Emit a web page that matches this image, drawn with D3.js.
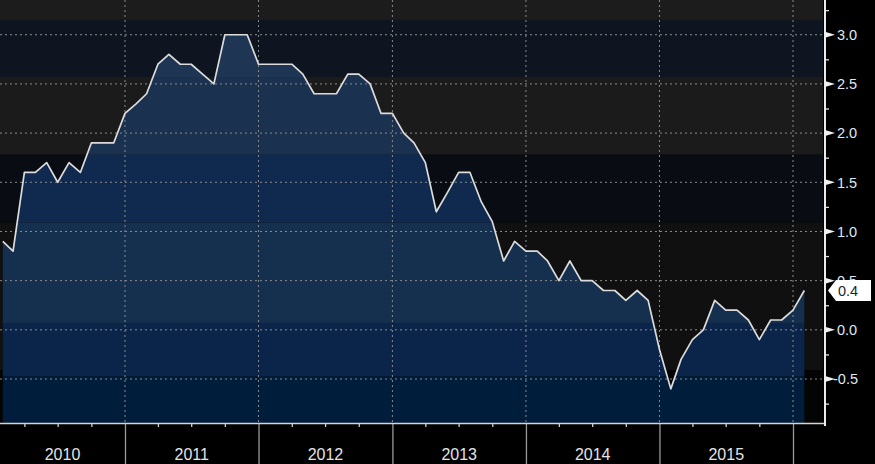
<!DOCTYPE html>
<html>
<head>
<meta charset="utf-8">
<script src="https://cdn.jsdelivr.net/npm/d3@7"></script>
<style>
  body { margin: 0; background: #000; }
  svg { display: block; font-family: "Liberation Sans", Arial, sans-serif; }
</style>
</head>
<body>
<div id="chart"></div>
<script>
// monthly values, Jan..Dec of each year
var cpi2010 = [0.9, 0.8, 1.6, 1.6, 1.7, 1.5, 1.7, 1.6, 1.9, 1.9, 1.9, 2.2];
var cpi2011 = [2.3, 2.4, 2.7, 2.8, 2.7, 2.7, 2.6, 2.5, 3.0, 3.0, 3.0, 2.7];
var cpi2012 = [2.7, 2.7, 2.7, 2.6, 2.4, 2.4, 2.4, 2.6, 2.6, 2.5, 2.2, 2.2];
var cpi2013 = [2.0, 1.9, 1.7, 1.2, 1.4, 1.6, 1.6, 1.3, 1.1, 0.7, 0.9, 0.8];
var cpi2014 = [0.8, 0.7, 0.5, 0.7, 0.5, 0.5, 0.4, 0.4, 0.3, 0.4, 0.3, -0.2];
var cpi2015 = [-0.6, -0.3, -0.1, 0.0, 0.3, 0.2, 0.2, 0.1, -0.1, 0.1, 0.1, 0.2];
var cpi2016 = [0.4];

var years = [2010, 2011, 2012, 2013, 2014, 2015, 2016];
var yearLabels = ["2010", "2011", "2012", "2013", "2014", "2015"];
var yTicks = [-0.5, 0, 0.5, 1.0, 1.5, 2.0, 2.5, 3.0];
var yMinorTicks = [-0.75, -0.25, 0.25, 0.75, 1.25, 1.75, 2.25, 2.75, 3.25];

// background shading bands (value breaks, top to bottom)
var bgBreaks = [3.15, 2.57, 1.78, 1.09, -0.41];
var bgColors = ["#1c1c1c", "#0f1520", "#1b1b1b", "#0a0c14", "#101010", "#040404"];
var fillBreaks = [2.57, 1.78, 1.09, 0.07, -0.47];
var fillColors = ["#1e3554", "#1a3150", "#0f2a4e", "#15304f", "#0a2549", "#001d3b"];

var width = 875, height = 464;
var plotW = 823, plotH = 423;

var series = [cpi2010, cpi2011, cpi2012, cpi2013, cpi2014, cpi2015, cpi2016];
var data = [];
series.forEach(function(vals, k) {
  vals.forEach(function(v, m) {
    // plotted at month end
    data.push({ date: d3.timeMonth.offset(new Date(years[k], m, 1), 1), value: v });
  });
});

var svg = d3.select("#chart").append("svg")
  .attr("width", width)
  .attr("height", height);

var x = d3.scaleTime()
  .domain([new Date(2010, 0, 24, 8), new Date(2016, 2, 23)])
  .range([0, plotW]);

var y = d3.scaleLinear()
  .domain([-0.947, 3.353])
  .range([plotH, 0]);

var g = svg.append("g");

// background bands
var bgEdges = [y.domain()[1]].concat(bgBreaks, [y.domain()[0]]);
g.selectAll(".bg").data(bgColors).enter().append("rect")
  .attr("x", 0)
  .attr("width", plotW)
  .attr("y", (d, i) => y(bgEdges[i]))
  .attr("height", (d, i) => y(bgEdges[i + 1]) - y(bgEdges[i]))
  .attr("fill", d => d);

// area clip
var area = d3.area()
  .x(d => x(d.date))
  .y0(plotH)
  .y1(d => y(d.value));

svg.append("clipPath").attr("id", "areaClip")
  .append("path").attr("d", area(data));

var fillEdges = [y.domain()[1]].concat(fillBreaks, [y.domain()[0]]);
g.append("g").attr("clip-path", "url(#areaClip)")
  .selectAll("rect").data(fillColors).enter().append("rect")
  .attr("x", 0)
  .attr("width", plotW)
  .attr("y", (d, i) => y(fillEdges[i]))
  .attr("height", (d, i) => y(fillEdges[i + 1]) - y(fillEdges[i]))
  .attr("fill", d => d);

// grid
var yearStarts = years.slice(1).map(yr => new Date(yr, 0, 1));
g.selectAll(".hgrid").data(yTicks).enter().append("line")
  .attr("x1", 0).attr("x2", plotW)
  .attr("y1", d => y(d)).attr("y2", d => y(d))
  .attr("stroke", "#8a8a8a")
  .attr("stroke-width", 1)
  .attr("stroke-dasharray", "2,3");
g.selectAll(".vgrid").data(yearStarts).enter().append("line")
  .attr("x1", d => x(d)).attr("x2", d => x(d))
  .attr("y1", 0).attr("y2", plotH)
  .attr("stroke", "#8a8a8a")
  .attr("stroke-width", 1)
  .attr("stroke-dasharray", "2,3");

// line
var line = d3.line()
  .x(d => x(d.date))
  .y(d => y(d.value));

g.append("path")
  .datum(data)
  .attr("fill", "none")
  .attr("stroke", "#dcdcdc")
  .attr("stroke-width", 1.7)
  .attr("stroke-linejoin", "round")
  .attr("d", line);

// bottom axis
var quarterTicks = d3.timeMonth.every(3).range(x.domain()[0], x.domain()[1])
  .filter(d => d.getMonth() !== 0);

var xMinor = d3.axisBottom(x).tickValues(quarterTicks).tickSize(4).tickFormat("");
var xMajor = d3.axisBottom(x).tickValues(yearStarts).tickSize(41).tickFormat("");

var xm = svg.append("g").attr("transform", `translate(0, ${plotH})`).call(xMinor);
var xM = svg.append("g").attr("transform", `translate(0, ${plotH})`).call(xMajor);
xm.select(".domain").remove();
xM.select(".domain").remove();
xm.selectAll("line").attr("stroke", "#cfcfcf").attr("stroke-width", 1.3);
xM.selectAll("line").attr("stroke", "#9a9a9a").attr("stroke-width", 1.3);

svg.append("line")
  .attr("x1", 0).attr("x2", plotW + 3)
  .attr("y1", plotH + 0.5).attr("y2", plotH + 0.5)
  .attr("stroke", "#d4d4d4")
  .attr("stroke-width", 1.5);

svg.selectAll(".year").data(yearLabels).enter().append("text")
  .attr("x", (d, i) => {
    var a = Math.max(0, x(new Date(+d, 0, 1)));
    var b = x(new Date(+d + 1, 0, 1));
    return (a + b) / 2;
  })
  .attr("y", 460)
  .attr("text-anchor", "middle")
  .attr("fill", "#e4e4e4")
  .attr("font-size", 16)
  .text(d => d);

// right axis
var axisX = plotW + 2;
var yAxis = d3.axisRight(y).tickValues(yMinorTicks).tickSize(4).tickFormat("");
var ya = svg.append("g").attr("transform", `translate(${axisX}, 0)`).call(yAxis);
ya.select(".domain").remove();
ya.selectAll("line").attr("stroke", "#e0e0e0").attr("stroke-width", 1.3);

svg.append("line")
  .attr("x1", axisX).attr("x2", axisX)
  .attr("y1", 0).attr("y2", plotH + 3)
  .attr("stroke", "#ececec")
  .attr("stroke-width", 2);

svg.selectAll(".ytri").data(yTicks).enter().append("path")
  .attr("d", d => `M${axisX},${y(d) - 3}L${axisX + 10},${y(d)}L${axisX},${y(d) + 3}Z`)
  .attr("fill", "#f0f0f0");

svg.selectAll(".ylab").data(yTicks).enter().append("text")
  .attr("x", d => d < 0 ? axisX + 8 : axisX + 12)
  .attr("y", d => y(d))
  .attr("dy", "0.36em")
  .attr("fill", "#dfe8f2")
  .attr("font-size", 14.5)
  .text(d => d3.format(".1f")(d).replace("−", "-"));

// last value marker
var last = data[data.length - 1];
var ly = y(last.value);
svg.append("path")
  .attr("d", `M${axisX + 3},${ly}L${axisX + 11},${ly - 10.5}L${axisX + 46},${ly - 10.5}L${axisX + 46},${ly + 10.5}L${axisX + 11},${ly + 10.5}Z`)
  .attr("fill", "#ffffff");
svg.append("text")
  .attr("x", axisX + 13)
  .attr("y", ly)
  .attr("dy", "0.36em")
  .attr("fill", "#1c2430")
  .attr("font-size", 14.5)
  .text(d3.format(".1f")(last.value));
</script>
</body>
</html>
